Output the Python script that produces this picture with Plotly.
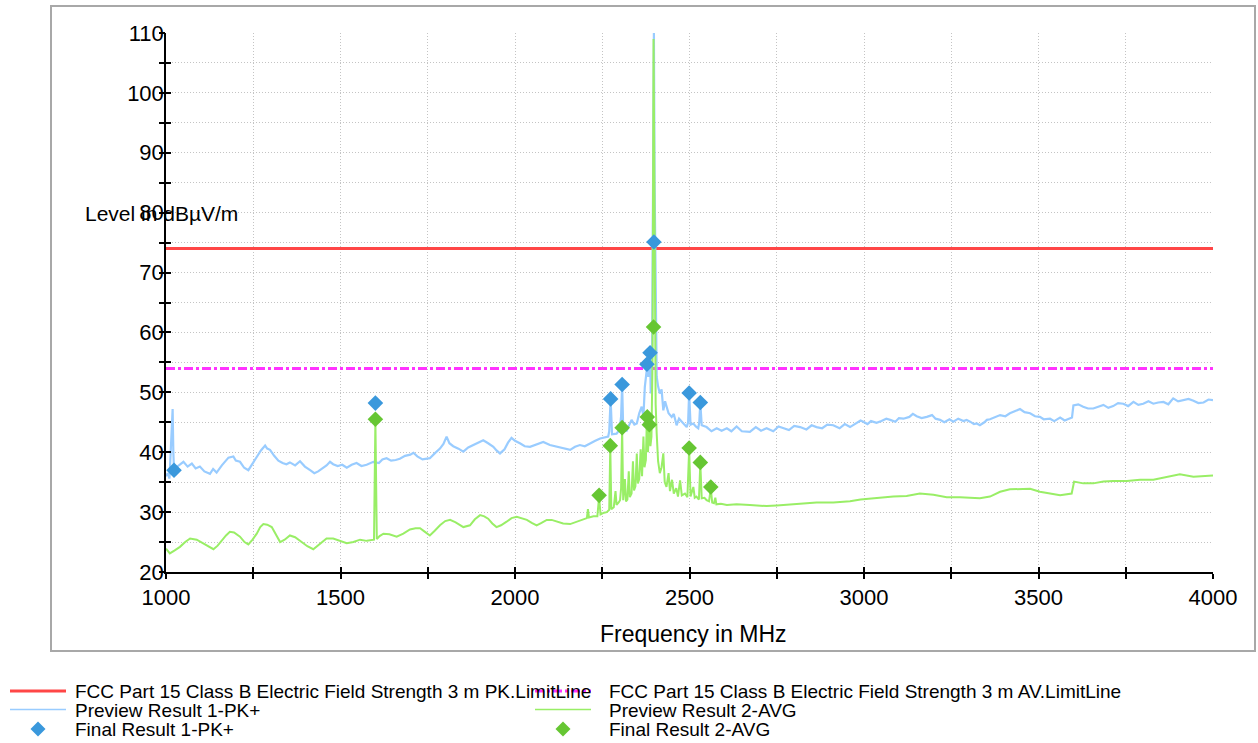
import plotly.graph_objects as go

# ---------------- data ----------------
pk_freq = [1000,1005,1010,1014,1017,1019,1021,1023,1030,1040,1050,1062,1074,1085,1097,1110,1126,1135,1145,1160,1170,1179,1193,1200,1212,1224,1236,1248,1260,1272,1284,1290,1298,1310,1322,1334,1345,1355,1370,1384,1398,1413,1425,1436,1448,1460,1470,1479,1492,1505,1518,1532,1546,1560,1575,1594,1610,1620,1632,1645,1658,1670,1685,1700,1709,1720,1735,1756,1770,1785,1795,1804,1812,1823,1838,1852,1866,1880,1895,1909,1923,1938,1947,1957,1970,1980,1990,2000,2014,2028,2043,2060,2081,2100,2119,2138,2158,2172,2186,2200,2215,2230,2244,2256,2267,2270,2274,2278,2291,2300,2304,2307,2310,2320,2334,2342,2349,2356,2363,2368,2372,2378,2382,2387,2389,2393,2396,2398,2400,2403,2406,2410,2415,2420,2425,2430,2434,2440,2449,2455,2463,2470,2478,2485,2492,2496,2499,2503,2511,2518,2525,2528,2531,2535,2549,2563,2578,2592,2607,2620,2635,2650,2673,2690,2705,2721,2740,2755,2769,2785,2800,2817,2835,2850,2864,2880,2895,2912,2930,2945,2960,2975,2990,2998,3010,3020,3036,3050,3064,3075,3090,3100,3113,3130,3140,3151,3165,3180,3195,3205,3218,3230,3245,3256,3270,3285,3294,3304,3315,3323,3332,3345,3352,3361,3375,3390,3405,3418,3430,3447,3460,3476,3490,3504,3515,3533,3545,3562,3575,3590,3596,3600,3614,3628,3642,3657,3672,3686,3700,3714,3728,3743,3757,3772,3786,3800,3815,3829,3843,3858,3872,3886,3900,3915,3930,3944,3958,3973,3987,4000]
pk_level = [36.0,36.5,35.6,41.0,44.5,47.2,40.0,37.0,37.5,38.0,38.4,37.6,38.1,37.3,37.6,36.8,36.4,37.2,36.6,37.8,38.5,39.1,39.3,38.6,38.4,37.4,37.0,38.2,39.2,40.3,41.1,40.6,40.4,39.4,38.6,38.2,38.0,38.3,37.8,38.5,37.6,37.0,36.5,36.8,37.3,37.8,38.4,38.0,37.7,37.9,37.4,37.9,38.2,37.7,37.9,38.4,38.2,38.8,39.0,38.6,38.7,38.9,39.4,39.6,39.9,39.3,38.8,39.0,39.8,40.6,41.4,42.6,41.5,41.0,40.6,40.1,40.8,41.2,41.6,42.0,41.5,40.9,40.3,39.8,40.5,41.6,42.4,41.9,41.5,41.0,40.9,41.3,41.7,41.2,40.9,40.6,40.4,40.9,41.2,41.0,41.5,41.9,42.3,42.5,42.6,43.5,48.9,43.0,43.1,43.8,46.0,51.3,44.0,43.6,45.4,44.6,44.8,46.5,47.6,46.0,50.9,54.0,52.6,56.0,49.8,58.0,80.0,110.0,85.0,60.0,52.6,51.0,49.8,50.5,47.0,48.5,47.6,46.5,45.9,46.4,44.5,45.6,45.1,44.6,44.2,45.0,49.9,44.6,44.8,44.3,44.0,45.0,48.3,44.5,44.2,43.5,44.0,43.6,44.0,43.5,44.3,43.5,43.4,44.2,43.6,44.0,43.5,44.3,44.0,43.7,44.4,44.2,43.8,44.5,44.2,44.0,44.6,44.5,44.0,44.7,44.2,44.8,45.3,45.1,44.7,45.2,44.9,45.2,45.6,45.4,45.1,45.7,45.6,45.9,46.4,46.0,45.7,45.9,46.2,45.6,45.4,45.0,45.5,45.1,45.6,45.2,45.4,45.1,44.7,44.8,44.5,45.0,45.4,45.5,45.9,46.2,46.0,46.5,46.8,47.2,46.7,46.5,46.0,45.9,45.5,45.6,45.2,45.8,45.3,45.6,45.8,47.8,48.0,47.6,47.3,47.3,47.6,47.9,47.4,47.7,48.2,48.1,47.7,48.4,47.9,48.1,48.5,48.1,48.3,48.4,48.0,49.0,48.5,48.7,48.9,48.6,48.2,48.3,48.8,48.7]

av_freq = [1000,1011,1025,1040,1055,1069,1088,1100,1117,1136,1148,1160,1172,1183,1195,1212,1225,1236,1248,1260,1270,1279,1290,1303,1315,1327,1340,1355,1370,1389,1405,1422,1440,1460,1479,1500,1518,1537,1556,1575,1589,1596,1600,1604,1612,1623,1640,1661,1680,1699,1715,1728,1742,1756,1770,1785,1800,1814,1830,1852,1871,1885,1900,1912,1923,1935,1947,1960,1976,1990,2005,2020,2034,2048,2062,2076,2091,2105,2119,2138,2158,2172,2186,2200,2206,2209,2212,2225,2236,2241,2245,2255,2263,2270,2273,2276,2283,2288,2291,2297,2301,2304,2307,2310,2315,2318,2322,2326,2329,2334,2338,2341,2345,2349,2352,2356,2360,2364,2368,2371,2375,2378,2381,2385,2388,2391,2394,2397,2400,2403,2406,2410,2415,2420,2425,2429,2434,2440,2444,2450,2455,2462,2467,2473,2478,2487,2494,2499,2503,2511,2515,2520,2527,2531,2535,2543,2549,2556,2561,2565,2570,2574,2577,2590,2607,2620,2635,2673,2700,2721,2750,2769,2800,2830,2864,2912,2960,2990,3008,3046,3084,3122,3160,3199,3237,3275,3304,3332,3361,3390,3418,3447,3476,3504,3533,3562,3595,3602,3628,3657,3686,3714,3753,3791,3829,3867,3905,3944,3982,4000]
av_level = [23.9,23.1,23.6,24.2,25.0,25.6,25.4,25.0,24.5,23.8,24.4,25.3,26.1,26.7,26.6,25.9,25.0,24.6,25.4,26.4,27.5,28.0,27.9,27.5,26.3,25.0,25.4,26.1,25.8,25.0,24.3,23.8,24.6,25.6,25.6,25.2,24.8,25.0,25.4,25.2,25.3,25.4,45.3,25.5,26.0,26.4,26.3,25.9,26.4,27.1,27.3,27.3,26.7,26.1,26.9,27.8,28.5,28.7,28.3,27.5,27.8,28.8,29.5,29.3,28.9,28.1,27.5,27.8,28.4,29.0,29.2,29.0,28.7,28.2,27.8,28.2,28.7,28.7,28.4,28.1,28.0,28.3,28.7,29.0,29.0,30.5,29.1,29.3,29.3,32.6,29.6,29.9,30.0,30.4,41.0,30.5,30.8,33.5,31.2,31.6,32.0,34.0,44.0,32.0,35.5,31.8,32.1,36.8,32.5,33.1,38.5,33.6,34.3,39.8,34.8,35.5,40.5,36.0,42.6,37.5,38.7,46.0,40.0,45.0,41.0,42.6,55.0,109.0,70.0,48.0,43.1,38.5,36.5,37.5,39.8,35.0,34.2,36.5,33.5,35.4,33.1,34.0,32.6,35.3,32.8,33.1,32.5,40.5,32.6,34.2,32.4,32.6,32.1,38.1,32.3,32.4,32.0,31.8,34.0,31.6,31.5,32.4,31.3,31.4,31.2,31.3,31.3,31.2,31.1,31.0,31.1,31.2,31.3,31.5,31.6,31.6,31.8,32.1,32.2,32.5,32.6,32.7,33.1,32.9,32.5,32.5,32.4,32.3,32.6,33.4,33.8,33.9,33.9,33.4,33.1,32.8,33.1,35.1,34.8,34.8,35.1,35.2,35.2,35.4,35.4,35.9,36.3,35.9,36.0,36.1]

final_pk_freq = [1023, 1600, 2274, 2307, 2378, 2387, 2398, 2499, 2531]
final_pk_level = [37.0, 48.2, 48.9, 51.3, 54.7, 56.6, 75.1, 49.9, 48.3]

final_av_freq = [1600, 2241, 2273, 2307, 2379, 2385, 2397, 2499, 2531, 2561]
final_av_level = [45.5, 32.8, 41.1, 44.1, 45.9, 44.6, 60.9, 40.7, 38.3, 34.2]

limit_freq = [1000, 4000]
limit_pk = [74, 74]
limit_av = [54, 54]

legend_names = [
    "FCC Part 15 Class B Electric Field Strength 3 m PK.LimitLine",
    "FCC Part 15 Class B Electric Field Strength 3 m AV.LimitLine",
    "Preview Result 1-PK+",
    "Preview Result 2-AVG",
    "Final Result 1-PK+",
    "Final Result 2-AVG",
]

# ---------------- styling ----------------
W, H = 1258, 743
ML, MR, MT, MB = 166, 45, 33, 171
PW, PH = W - ML - MR, H - MT - MB
FONT = "Arial, Liberation Sans, sans-serif"

RED = "#ff4646"
MAG = "#ff33ff"
LBLUE = "#99ccff"
LGREEN = "#99ee66"
DBLUE = "#3a98dc"
DGREEN = "#66c633"
GRID = "#c4c4c4"
GRIDDASH = "1px,2px"


def px(x):
    return (x - ML) / PW


def py(y):
    return (H - MB - y) / PH


fig = go.Figure()

fig.add_trace(go.Scatter(x=limit_freq, y=limit_pk, mode="lines",
                         line=dict(color=RED, width=3), showlegend=False,
                         name=legend_names[0]))
fig.add_trace(go.Scatter(x=limit_freq, y=limit_av, mode="lines",
                         line=dict(color=MAG, width=3, dash="dashdot"),
                         showlegend=False, name=legend_names[1]))
fig.add_trace(go.Scatter(x=pk_freq, y=pk_level, mode="lines",
                         line=dict(color=LBLUE, width=2.2), showlegend=False,
                         name=legend_names[2]))
fig.add_trace(go.Scatter(x=av_freq, y=av_level, mode="lines",
                         line=dict(color=LGREEN, width=2), showlegend=False,
                         name=legend_names[3]))
fig.add_trace(go.Scatter(x=final_pk_freq, y=final_pk_level, mode="markers",
                         marker=dict(symbol="diamond", size=12, color=DBLUE),
                         showlegend=False, name=legend_names[4]))
fig.add_trace(go.Scatter(x=final_av_freq, y=final_av_level, mode="markers",
                         marker=dict(symbol="diamond", size=12, color=DGREEN),
                         showlegend=False, name=legend_names[5]))
# invisible trace for overlay axes (crossing tick marks)
fig.add_trace(go.Scatter(x=limit_freq, y=limit_pk, xaxis="x2", yaxis="y2",
                         mode="lines", line=dict(width=0), opacity=0,
                         showlegend=False, hoverinfo="skip"))

TICKFONT = dict(family=FONT, size=22, color="black")
grid_kw = dict(showgrid=True, gridcolor=GRID, griddash=GRIDDASH, gridwidth=1)

fig.update_layout(
    width=W, height=H,
    margin=dict(l=ML, r=MR, t=MT, b=MB),
    paper_bgcolor="white", plot_bgcolor="white",
    font=dict(family=FONT, color="black"),
    showlegend=False,
    xaxis=dict(range=[1000, 4000], tick0=1000, dtick=500, showline=True,
               linecolor="black", linewidth=1.5, zeroline=False, tickfont=TICKFONT,
               ticks="outside", ticklen=5, tickwidth=1.5, tickcolor="black", **grid_kw,
               minor=dict(dtick=250, ticks="outside", ticklen=5, tickwidth=1.5,
                          tickcolor="black", **grid_kw)),
    yaxis=dict(range=[20, 110], tick0=20, dtick=10, showline=True,
               linecolor="black", linewidth=1.5, zeroline=False, tickfont=TICKFONT,
               ticks="inside", ticklen=5, tickwidth=1.5, tickcolor="black",
               ticklabelstandoff=-4, **grid_kw,
               minor=dict(dtick=5, ticks="inside", ticklen=5, tickwidth=1.5,
                          tickcolor="black", **grid_kw)),
    xaxis2=dict(range=[1000, 4000], overlaying="x", anchor="y", side="bottom",
                tick0=1000, dtick=250, ticks="inside", ticklen=5, tickwidth=1.5,
                tickcolor="black", showticklabels=False, showgrid=False,
                zeroline=False, showline=False),
    yaxis2=dict(range=[20, 110], overlaying="y", anchor="x", side="left",
                tick0=20, dtick=5, ticks="outside", ticklen=6, tickwidth=1.5,
                tickcolor="black", showticklabels=False, showgrid=False,
                zeroline=False, showline=False),
)

shapes = []
annotations = []

# outer frame
shapes.append(dict(type="rect", xref="paper", yref="paper",
                   x0=px(51), x1=px(1255), y0=py(651), y1=py(6),
                   line=dict(color="#a8a8a8", width=2), fillcolor="rgba(0,0,0,0)",
                   layer="below"))

# axis titles
annotations.append(dict(text="Level in dBµV/m", xref="paper", yref="paper",
                        x=px(83), y=py(214), xanchor="left", yanchor="middle",
                        showarrow=False, font=dict(family=FONT, size=21, color="black")))
annotations.append(dict(text="Frequency in MHz", xref="paper", yref="paper",
                        x=px(693), y=py(634), xanchor="center", yanchor="middle",
                        showarrow=False, font=dict(family=FONT, size=23, color="black")))

# manual legend (two columns, three rows)
rows = [692, 710.5, 729]
col_line = [(10, 66), (535, 591)]
col_text = [73, 607]
LEG_FONT = dict(family=FONT, size=19, color="black")


def diamond(cx, cy, r):
    return ("M {a},{b} L {c},{d} L {e},{f} L {g},{h} Z".format(
        a=px(cx - r), b=py(cy), c=px(cx), d=py(cy - r),
        e=px(cx + r), f=py(cy), g=px(cx), h=py(cy + r)))


items = [
    (0, 0, "line", RED, 3, "solid"),
    (1, 0, "line", MAG, 3, "dashdot"),
    (0, 1, "line", LBLUE, 1.5, "solid"),
    (1, 1, "line", LGREEN, 1.5, "solid"),
    (0, 2, "diamond", DBLUE, None, None),
    (1, 2, "diamond", DGREEN, None, None),
]
for i, (c, r, kind, color, w, dash) in enumerate(items):
    x0, x1 = col_line[c]
    yy = rows[r]
    if kind == "line":
        shapes.append(dict(type="line", xref="paper", yref="paper",
                           x0=px(x0), x1=px(x1), y0=py(yy - 1), y1=py(yy - 1),
                           line=dict(color=color, width=w, dash=dash)))
    else:
        shapes.append(dict(type="path", xref="paper", yref="paper",
                           path=diamond((x0 + x1) / 2, yy, 7.5),
                           fillcolor=color, line=dict(width=0)))
    annotations.append(dict(text=legend_names[i], xref="paper", yref="paper",
                            x=px(col_text[c]), y=py(yy), xanchor="left",
                            yanchor="middle", showarrow=False, font=LEG_FONT))

fig.update_layout(shapes=shapes, annotations=annotations)

fig.write_html("out.html")
